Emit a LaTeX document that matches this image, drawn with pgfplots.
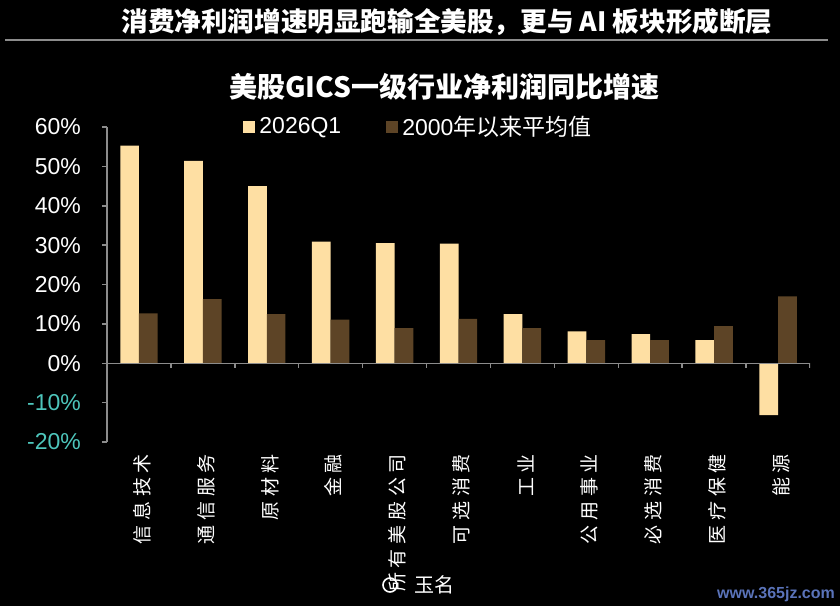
\documentclass[border=0pt]{standalone}
\usepackage{pgfplots}
\pgfplotsset{compat=1.18}
\usepackage{pgfplotstable}
\usepackage{fontspec}
\setmainfont{Liberation Sans}
\newfontfamily\cjk{Noto Sans CJK SC}
\newfontfamily\cjklab[LetterSpace=25]{Noto Sans CJK SC}
\definecolor{ybarc}{RGB}{254,223,163}
\definecolor{bbarc}{RGB}{93,68,38}
\definecolor{axgray}{RGB}{140,140,140}
\definecolor{negc}{RGB}{78,198,188}
\definecolor{wm}{RGB}{90,115,185}
\pgfplotstableread{
x q1 avg
0 55.3 12.7
1 51.4 16.3
2 45.0 12.5
3 30.9 11.1
4 30.5 8.9
5 30.4 11.3
6 12.5 8.9
7 8.1 5.9
8 7.4 5.9
9 5.9 9.4
10 -13.2 17.0
}\data
\begin{document}
\begin{tikzpicture}
\fill[black] (0pt,0pt) rectangle (420pt,303pt);
\useasboundingbox (0pt,0pt) rectangle (420pt,303pt);
\node[text=white, font=\cjk\bfseries\fontsize{13.3}{15}\selectfont] at (223.5pt,292pt) {消费净利润增速明显跑输全美股，更与 AI 板块形成断层};
\draw[axgray, line width=1pt] (2.5pt,283pt) -- (414pt,283pt);
\node[text=white, font=\cjk\bfseries\fontsize{14}{16}\selectfont] at (222pt,259.5pt) {美股GICS一级行业净利润同比增速};
\begin{axis}[
  at={(53.5pt,82pt)}, anchor=south west, scale only axis,
  width=351.5pt, height=157.5pt,
  xmin=-0.5, xmax=10.5, ymin=-20, ymax=60,
  ybar=0pt, bar width=9.35pt,
  axis x line=bottom, axis y line=left,
  x axis line style={draw=none},
  y axis line style={-, draw=axgray, line width=0.75pt},
  xtick={0,...,10},
  xticklabels={信息技术,通信服务,原材料,金融,所有美股公司,可选消费,工业,公用事业,必选消费,医疗保健,能源},
  xtick style={draw=none},
  xticklabel style={rotate=90, anchor=east, text=white, yshift=-1.5pt, font=\cjklab\fontsize{9.5}{10}\selectfont},
  ytick={-20,-10,...,60},
  yticklabels={\textcolor{negc}{-20\%},\textcolor{negc}{-10\%},0\%,10\%,20\%,30\%,40\%,50\%,60\%},
  ytick style={draw=axgray, line width=0.75pt},
  tick align=outside, major tick length=2.5pt,
  yticklabel style={text=white, xshift=-7pt, font=\fontsize{11.5}{13}\selectfont},
  legend columns=2,
  legend style={at={(0.1935,1)}, anchor=west, draw=none, fill=none, text=white,
    font=\fontsize{11.5}{13}\selectfont, inner sep=0pt,
    /tikz/every even column/.append style={column sep=20.5pt}},
  legend image code/.code={\fill[#1] (0pt,-3pt) rectangle (6pt,3pt);},
]
\addplot[fill=ybarc, draw=none] table[x=x, y=q1] {\data};
\addplot[fill=bbarc, draw=none] table[x=x, y=avg] {\data};
\legend{2026Q1, {2000{\cjk 年以来平均值}}}
\draw[axgray, line width=0.75pt] (axis cs:-0.5,0) -- (axis cs:10.5,0);
\pgfplotsinvokeforeach{0.5,1.5,2.5,3.5,4.5,5.5,6.5,7.5,8.5,9.5,10.5}{
  \draw[axgray, line width=0.75pt] (axis cs:#1,0) -- ++(0pt,-2.5pt);
}
\end{axis}
\draw[white, line width=0.8pt] (195pt,10.5pt) circle (3.5pt);
\node[text=white, font=\cjk\fontsize{10}{12}\selectfont] at (217pt,10.5pt) {玉名};
\node[text=wm, font=\bfseries\fontsize{8}{9}\selectfont] at (388pt,6pt) {www.365jz.com};
\end{tikzpicture}
\end{document}
